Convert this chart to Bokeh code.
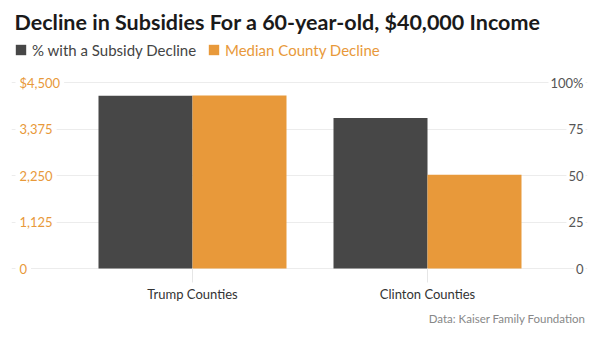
from bokeh.plotting import figure
from bokeh.models import (Range1d, Label, Legend, LegendItem,
                          FixedTicker, Title, ColumnDataSource)
from bokeh.transform import dodge
from bokeh.embed import file_html
from bokeh.resources import INLINE

# ---- data ----
categories = ["Trump Counties", "Clinton Counties"]
pct_with_decline = [93, 81]
median_decline = [4190, 2270]
usd_ticks = [0, 1125, 2250, 3375, 4500]
usd_labels = ["0", "1,125", "2,250", "3,375", "$4,500"]
pct_ticks = [0, 25, 50, 75, 100]
pct_labels = ["0", "25", "50", "75", "100%"]
series_names = ["% with a Subsidy Decline", "Median County Decline"]
title_text = "Decline in Subsidies For a 60-year-old, $40,000 Income"
source_text = "Data: Kaiser Family Foundation"

# ---- style / layout (pixels) ----
GRAY = "#474747"
ORANGE = "#E8993A"
FONT = "Lato"
W, H = 600, 342
FRAME_L, FRAME_R = 11, 587
FRAME_TOP, FRAME_BOTTOM = 40, 276
ZERO_PX, TOP_TICK_PX = 268, 82.3
FIRST_CAT_PX, CAT_STEP_PX = 192, 235

# value-per-pixel for the two vertical scales
k = pct_ticks[-1] / (ZERO_PX - TOP_TICK_PX)
pct_start = -(FRAME_BOTTOM - ZERO_PX) * k
pct_end = (ZERO_PX - FRAME_TOP) * k
usd_k = usd_ticks[-1] / pct_ticks[-1]

x_start = -(FIRST_CAT_PX - FRAME_L) / CAT_STEP_PX
x_end = (FRAME_R - FIRST_CAT_PX) / CAT_STEP_PX

positions = list(range(len(categories)))

p = figure(width=W, height=H,
           x_range=Range1d(x_start, x_end),
           y_range=Range1d(pct_start, pct_end),
           output_backend="svg", toolbar_location=None,
           x_axis_location="below", y_axis_location=None,
           min_border_left=FRAME_L, min_border_right=W - FRAME_R,
           min_border_top=FRAME_TOP, min_border_bottom=H - FRAME_BOTTOM)
p.extra_y_ranges = {"usd": Range1d(pct_start * usd_k, pct_end * usd_k)}
p.outline_line_color = None
p.background_fill_color = "white"
p.border_fill_color = "white"

p.title.text = title_text
p.title.text_font = FONT
p.title.text_font_size = "21.5px"
p.title.text_font_style = "bold"
p.title.text_color = "#1a1a1a"
p.title.align = "left"
p.title.offset = 14 - FRAME_L
p.title.standoff = 11

src = ColumnDataSource(dict(pos=positions, cat=categories,
                            pct=pct_with_decline, usd=median_decline))
r1 = p.vbar(x=dodge("pos", -0.2), top="pct", width=0.4,
            source=src, fill_color=GRAY, line_color=None)
r2 = p.vbar(x=dodge("pos", 0.2), top="usd", width=0.4,
            source=src, fill_color=ORANGE, line_color=None, y_range_name="usd")

p.xgrid.visible = False
p.ygrid.ticker = FixedTicker(ticks=pct_ticks)
p.ygrid.grid_line_color = "#ececec"

ax = p.xaxis[0]
ax.ticker = FixedTicker(ticks=positions)
ax.major_label_overrides = {i: c for i, c in zip(positions, categories)}
ax.axis_line_color = None
ax.major_tick_in = FRAME_BOTTOM - ZERO_PX
ax.major_tick_out = 6
ax.major_tick_line_color = "#e6e6e6"
ax.minor_tick_line_color = None
ax.major_label_standoff = 3
ax.major_label_text_font = FONT
ax.major_label_text_font_size = "13px"
ax.major_label_text_color = "#333333"

for t, lab in zip(usd_ticks, usd_labels):
    p.add_layout(Label(x=15 - FRAME_L, x_units="screen", y=t, y_range_name="usd",
                       text=lab, text_align="left", text_baseline="middle",
                       text_font=FONT, text_font_size="13px", text_color=ORANGE,
                       background_fill_color="white", padding=4))
for t, lab in zip(pct_ticks, pct_labels):
    p.add_layout(Label(x=585 - FRAME_L, x_units="screen", y=t,
                       text=lab, text_align="right", text_baseline="middle",
                       text_font=FONT, text_font_size="13px", text_color="#555555",
                       background_fill_color="white", padding=2))

def make_legend(item_label, renderer, x, color):
    return Legend(items=[LegendItem(label=item_label, renderers=[renderer])],
                  location=(x, FRAME_BOTTOM - 59.5), orientation="horizontal",
                  padding=0, margin=0, border_line_color=None,
                  background_fill_alpha=0, glyph_width=13, glyph_height=13,
                  label_standoff=5, label_text_font=FONT,
                  label_text_font_size="15px", label_text_color=color,
                  label_height=20)

p.add_layout(make_legend(series_names[0], r1, 3, "#444444"))
p.add_layout(make_legend(series_names[1], r2, 196, ORANGE))

p.add_layout(Title(text=source_text, align="right", text_font=FONT,
                   text_font_size="11.5px", text_font_style="normal",
                   text_color="#888888", offset=2), "below")

open("out.html", "w").write(file_html(p, INLINE))
